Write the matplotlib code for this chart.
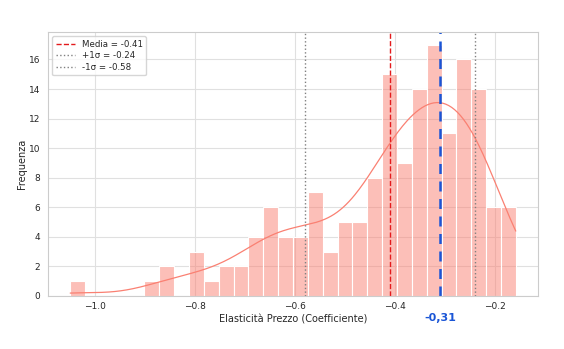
import numpy as np
import matplotlib
matplotlib.use("Agg")
import matplotlib.pyplot as plt
import seaborn as sns

# Histogram data
bin_start = -1.050
bin_end = -0.158
n_bins = 30
counts = [1, 0, 0, 0, 0, 1, 2, 0, 3, 1, 2, 2, 4, 6, 4,
          4, 7, 3, 5, 5, 8, 15, 9, 14, 17, 11, 16, 14, 6, 6]
mean_val = -0.41
plus_sd = -0.24
minus_sd = -0.58
highlight = -0.31
highlight_label = "-0,31"

sns.set_theme(style="whitegrid")
plt.rcParams['font.family'] = ['DejaVu Sans']

edges = np.linspace(bin_start, bin_end, n_bins + 1)
centers = (edges[:-1] + edges[1:]) / 2
obs = np.repeat(centers, counts)
bw = edges[1] - edges[0]

fig = plt.figure(figsize=(5.64, 3.49), dpi=100)
ax = fig.add_axes([0.085, 0.152, 0.869, 0.756])

sns.histplot(obs, bins=edges, kde=False, color="salmon", alpha=0.5,
             edgecolor="white", linewidth=0.8, ax=ax)

# Gaussian KDE (Scott's rule) scaled to counts
n = len(obs)
h = obs.std(ddof=1) * n ** (-1 / 5)
xs = np.linspace(bin_start, bin_end, 300)
dens = np.exp(-0.5 * ((xs[:, None] - obs[None, :]) / h) ** 2).sum(axis=1) / (n * h * np.sqrt(2 * np.pi))
ax.plot(xs, dens * n * bw, color="salmon", linewidth=0.9)

ax.axvline(mean_val, color="#e31a1c", linestyle="--", linewidth=1.0,
           label=f"Media = {mean_val:.2f}")
ax.axvline(plus_sd, color="gray", linestyle=":", linewidth=1.0,
           label=f"+1σ = {plus_sd:.2f}")
ax.axvline(minus_sd, color="gray", linestyle=":", linewidth=1.0,
           label=f"-1σ = {minus_sd:.2f}")
ax.axvline(highlight, color="#1a55d6", linestyle=(0, (4, 3)), linewidth=1.8)

ax.set_xlabel("Elasticità Prezzo (Coefficiente)", fontsize=7, labelpad=2.5)
ax.set_ylabel("Frequenza", fontsize=7, labelpad=1.5)
ax.tick_params(axis="x", labelsize=6.5, length=0, pad=4.5)
ax.tick_params(axis="y", labelsize=6.5, length=0, pad=5.5)

ax.text(highlight, -0.065, highlight_label, transform=ax.get_xaxis_transform(),
        ha="center", va="top", color="#1a55d6", fontsize=8, fontweight="bold")

for s in ax.spines.values():
    s.set_color("#cccccc")
    s.set_linewidth(0.8)
ax.grid(True, color="#e0e0e0", linewidth=0.8)

leg = ax.legend(loc="upper left", fontsize=6.2, frameon=True,
                handlelength=2.2, borderpad=0.4, labelspacing=0.3)
leg.get_frame().set_edgecolor("#cccccc")

fig.savefig("out.png", dpi=100)
